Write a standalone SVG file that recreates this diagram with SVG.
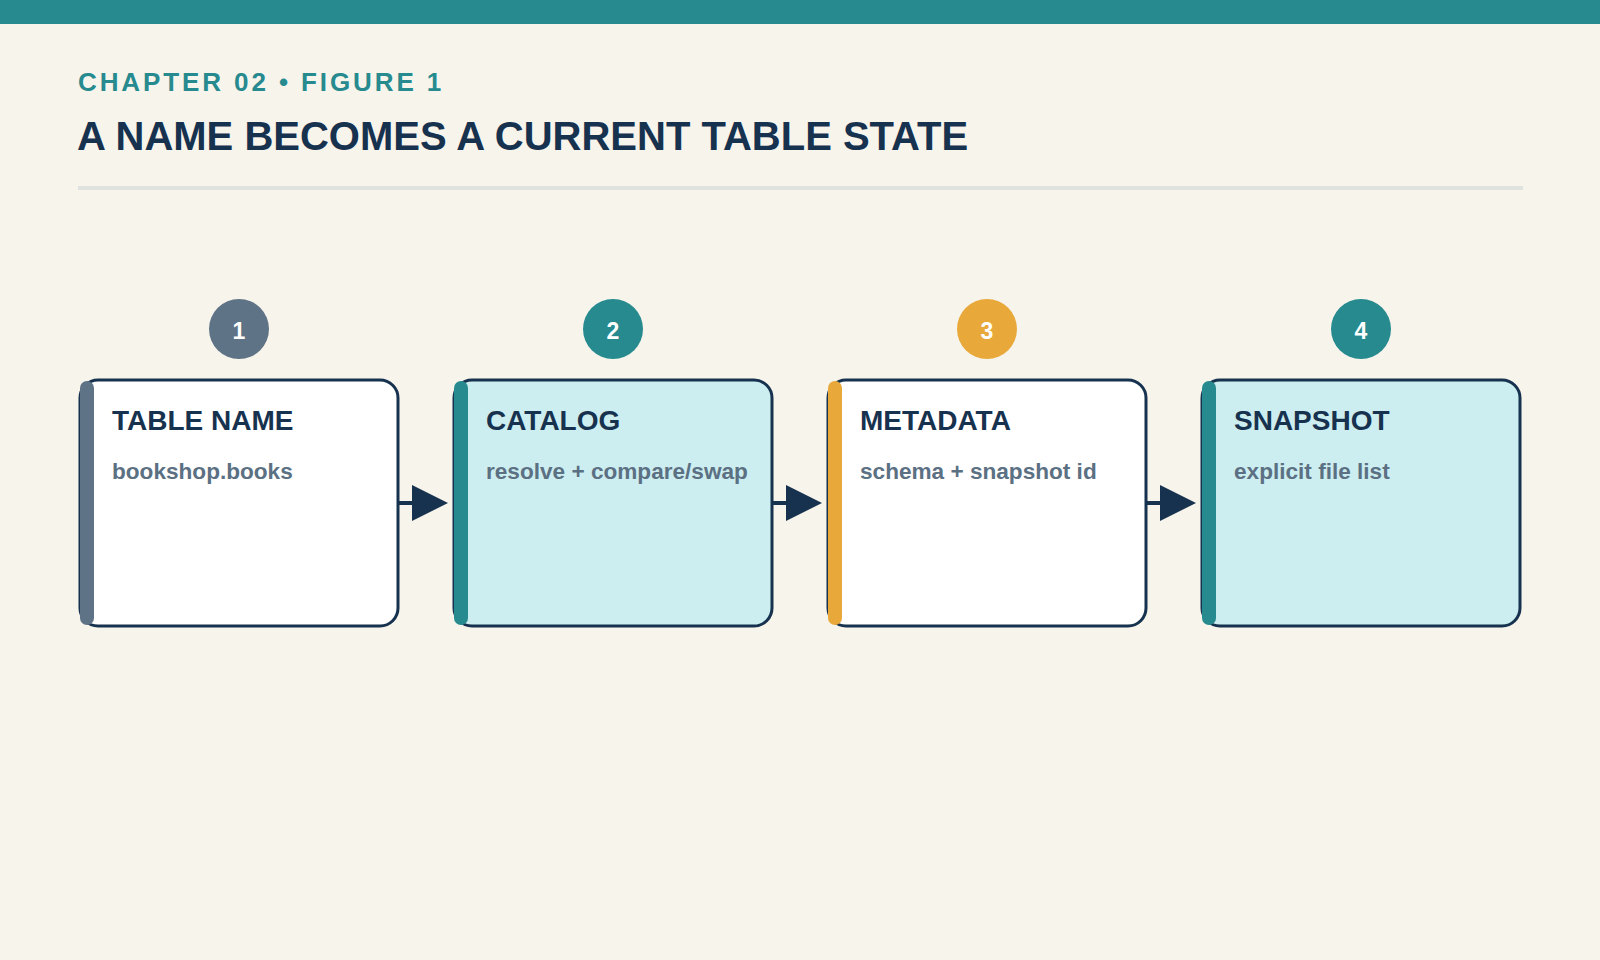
<svg xmlns="http://www.w3.org/2000/svg" width="1600" height="960" viewBox="0 0 1600 960">
<defs>
<style>
.box{stroke:#17324f;stroke-width:3}
.ttl{font-family:"Liberation Sans",Arial,sans-serif;font-weight:bold;font-size:28px;fill:#17324f}
.sub{font-family:"Liberation Sans",Arial,sans-serif;font-weight:bold;font-size:22.6px;fill:#5b7083}
.num{font-family:"Liberation Sans",Arial,sans-serif;font-weight:bold;font-size:23px;fill:#ffffff;text-anchor:middle}
.conn line{stroke:#17324f;stroke-width:4}
.conn polygon{fill:#17324f}
</style>
</defs>
<rect x="0" y="0" width="1600" height="960" fill="#f7f4ec"/>
<rect x="0" y="0" width="1600" height="24" fill="#268a8f"/>
<text x="78" y="91" font-family="Liberation Sans,Arial,sans-serif" font-weight="bold" font-size="26" letter-spacing="2.9" fill="#268a8f">CHAPTER 02 • FIGURE 1</text>
<text x="77" y="150" font-family="Liberation Sans,Arial,sans-serif" font-weight="bold" font-size="40" fill="#17324f">A NAME BECOMES A CURRENT TABLE STATE</text>
<rect x="78" y="186" width="1445" height="4" fill="#dfe2de"/>

<g id="connectors" class="conn">
<line x1="398" y1="503" x2="414" y2="503"/><polygon points="412,485 448,503 412,521"/>
<line x1="772" y1="503" x2="788" y2="503"/><polygon points="786,485 822,503 786,521"/>
<line x1="1146" y1="503" x2="1162" y2="503"/><polygon points="1160,485 1196,503 1160,521"/>
</g>

<g id="node1">
<circle cx="239" cy="329" r="30" fill="#5f7386"/>
<text class="num" x="239" y="339">1</text>
<rect class="box" x="80" y="380" width="318" height="246" rx="18" fill="#ffffff"/>
<rect x="80" y="381" width="14" height="244" rx="7" fill="#5f7386"/>
<text class="ttl" x="112" y="430">TABLE NAME</text>
<text class="sub" x="112" y="479">bookshop.books</text>
</g>

<g id="node2">
<circle cx="613" cy="329" r="30" fill="#268a8f"/>
<text class="num" x="613" y="339">2</text>
<rect class="box" x="454" y="380" width="318" height="246" rx="18" fill="#cdeef0"/>
<rect x="454" y="381" width="14" height="244" rx="7" fill="#268a8f"/>
<text class="ttl" x="486" y="430">CATALOG</text>
<text class="sub" x="486" y="479">resolve + compare/swap</text>
</g>

<g id="node3">
<circle cx="987" cy="329" r="30" fill="#e8a93a"/>
<text class="num" x="987" y="339">3</text>
<rect class="box" x="828" y="380" width="318" height="246" rx="18" fill="#ffffff"/>
<rect x="828" y="381" width="14" height="244" rx="7" fill="#e8a93a"/>
<text class="ttl" x="860" y="430">METADATA</text>
<text class="sub" x="860" y="479">schema + snapshot id</text>
</g>

<g id="node4">
<circle cx="1361" cy="329" r="30" fill="#268a8f"/>
<text class="num" x="1361" y="339">4</text>
<rect class="box" x="1202" y="380" width="318" height="246" rx="18" fill="#cdeef0"/>
<rect x="1202" y="381" width="14" height="244" rx="7" fill="#268a8f"/>
<text class="ttl" x="1234" y="430">SNAPSHOT</text>
<text class="sub" x="1234" y="479">explicit file list</text>
</g>
</svg>
